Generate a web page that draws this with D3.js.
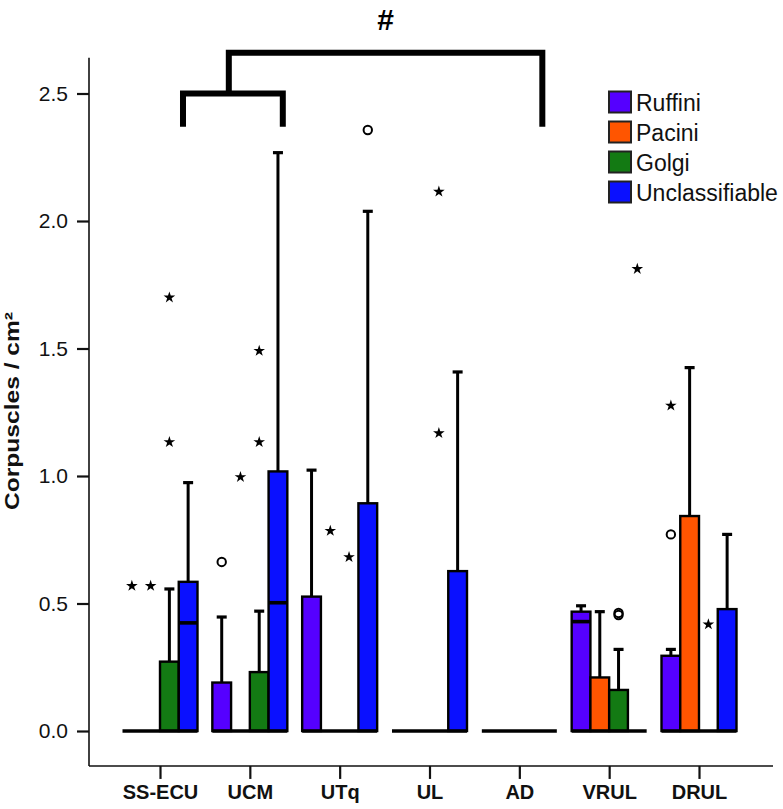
<!DOCTYPE html>
<html>
<head>
<meta charset="utf-8">
<script src="https://cdn.jsdelivr.net/npm/d3@7"></script>
<style>
  html, body { margin: 0; padding: 0; background: #fff; }
  svg { display: block; font-family: "Liberation Sans", Arial, sans-serif; }
</style>
</head>
<body>
<svg id="chart" width="783" height="809"></svg>
<script>
// ---------- data ----------
const categories = ["SS-ECU", "UCM", "UTq", "UL", "AD", "VRUL", "DRUL"];
const types = ["Ruffini", "Pacini", "Golgi", "Unclassifiable"];
const typeColors = ["#5500ff", "#ff5500", "#137a13", "#0a10ff"];
const yTicks = [0.0, 0.5, 1.0, 1.5, 2.0, 2.5];

// upper quartile (box top); lower quartile is 0 everywhere
const q3Ruffini = [0, 0.19, 0.527, 0, 0, 0.468, 0.295];
const q3Pacini = [0, 0, 0, 0, 0, 0.21, 0.843];
const q3Golgi = [0.272, 0.231, 0, 0, 0, 0.161, 0];
const q3Unclass = [0.585, 1.018, 0.893, 0.627, 0, 0, 0.478];

// medians
const medRuffini = [0, 0, 0, 0, 0, 0.429, 0];
const medPacini = [0, 0, 0, 0, 0, 0, 0];
const medGolgi = [0, 0, 0, 0, 0, 0, 0];
const medUnclass = [0.424, 0.503, 0, 0, 0, 0, 0];

// upper whisker ends
const whiskRuffini = [0, 0.447, 1.023, 0, 0, 0.491, 0.32];
const whiskPacini = [0, 0, 0, 0, 0, 0.468, 1.425];
const whiskGolgi = [0.557, 0.47, 0, 0, 0, 0.32, 0];
const whiskUnclass = [0.974, 2.268, 2.038, 1.408, 0, 0, 0.771];

// outliers: [category, type, value, marker]
const outliers = [
  ["SS-ECU", "Ruffini", 0.569, "star"],
  ["SS-ECU", "Pacini", 0.569, "star"],
  ["SS-ECU", "Golgi", 1.133, "star"],
  ["SS-ECU", "Golgi", 1.70, "star"],
  ["UCM", "Ruffini", 0.663, "circle"],
  ["UCM", "Pacini", 0.996, "star"],
  ["UCM", "Golgi", 1.133, "star"],
  ["UCM", "Golgi", 1.491, "star"],
  ["UTq", "Pacini", 0.785, "star"],
  ["UTq", "Golgi", 0.682, "star"],
  ["UTq", "Unclassifiable", 2.357, "circle"],
  ["UL", "Golgi", 1.168, "star"],
  ["UL", "Golgi", 2.115, "star"],
  ["VRUL", "Golgi", 0.455, "circle"],
  ["VRUL", "Golgi", 0.463, "circle"],
  ["VRUL", "Unclassifiable", 1.812, "star"],
  ["DRUL", "Ruffini", 0.771, "circle"],
  ["DRUL", "Ruffini", 1.276, "star"],
  ["DRUL", "Golgi", 0.418, "star"]
];

// significance brackets (value levels)
const bracketLow = { top: 2.5, foot: 2.37 };
const bracketHigh = { top: 2.66, foot: 2.37 };
const sigLabel = "#";
const yTitle = "Corpuscles / cm²";

// ---------- build ----------
const q3 = [q3Ruffini, q3Pacini, q3Golgi, q3Unclass];
const med = [medRuffini, medPacini, medGolgi, medUnclass];
const whisk = [whiskRuffini, whiskPacini, whiskGolgi, whiskUnclass];

const svg = d3.select("#chart");

const y = d3.scaleLinear().domain([0, 2.5]).range([731, 93.5]);
const x = d3.scalePoint().domain(categories).range([160, 699]);
const groupW = 75;
const sub = d3.scaleBand().domain(types).range([-groupW / 2, groupW / 2]);
const color = d3.scaleOrdinal().domain(types).range(typeColors);

const axisLeftX = 89;
const axisBottomY = y(-0.137);

// Y axis
const yAxis = d3.axisLeft(y).tickValues(yTicks).tickFormat(d3.format(".1f")).tickSize(12).tickPadding(9);
const gy = svg.append("g").attr("transform", `translate(${axisLeftX},0)`).call(yAxis);
gy.select(".domain").remove();
gy.selectAll(".tick line").attr("stroke", "#111").attr("stroke-width", 2.2);
gy.selectAll(".tick text").attr("font-size", 21).attr("fill", "#111")
  .attr("font-family", "Liberation Sans, Arial, sans-serif");
svg.append("line").attr("x1", axisLeftX).attr("x2", axisLeftX)
  .attr("y1", y(2.64)).attr("y2", axisBottomY).attr("stroke", "#111").attr("stroke-width", 1.6);

// X axis
const xAxis = d3.axisBottom(x).tickSize(13).tickPadding(6);
const gx = svg.append("g").attr("transform", `translate(0,${axisBottomY})`).call(xAxis);
gx.select(".domain").remove();
gx.selectAll(".tick line").attr("stroke", "#111").attr("stroke-width", 2.2);
gx.selectAll(".tick text").attr("font-size", 20).attr("font-weight", "bold").attr("fill", "#111")
  .attr("font-family", "Liberation Sans, Arial, sans-serif");
svg.append("line").attr("x1", axisLeftX).attr("x2", 773)
  .attr("y1", axisBottomY).attr("y2", axisBottomY).attr("stroke", "#111").attr("stroke-width", 1.6);

// Y title
svg.append("text")
  .attr("transform", `translate(19,411) rotate(-90)`)
  .attr("text-anchor", "middle")
  .attr("font-size", 20).attr("font-weight", "bold").attr("fill", "#111")
  .attr("textLength", 198).attr("lengthAdjust", "spacingAndGlyphs")
  .text(yTitle);

// Boxes
const plot = svg.append("g");
categories.forEach((cat, ci) => {
  const cx = x(cat);
  types.forEach((t, ti) => {
    const x0 = cx + sub(t);
    const bw = sub.bandwidth();
    const mid = x0 + bw / 2;
    const top = q3[ti][ci];
    const w = whisk[ti][ci];
    if (w > top) {
      plot.append("line").attr("x1", mid).attr("x2", mid)
        .attr("y1", y(top)).attr("y2", y(w))
        .attr("stroke", "#000").attr("stroke-width", 3);
      plot.append("line").attr("x1", mid - 5).attr("x2", mid + 5)
        .attr("y1", y(w)).attr("y2", y(w))
        .attr("stroke", "#000").attr("stroke-width", 3.2);
    }
    if (top > 0) {
      plot.append("rect")
        .attr("x", x0).attr("y", y(top))
        .attr("width", bw).attr("height", y(0) - y(top))
        .attr("fill", color(t)).attr("stroke", "#000").attr("stroke-width", 2.4);
    }
    const m = med[ti][ci];
    if (m > 0) {
      plot.append("line").attr("x1", x0).attr("x2", x0 + bw)
        .attr("y1", y(m)).attr("y2", y(m))
        .attr("stroke", "#000").attr("stroke-width", 3.6);
    }
  });
  // zero line (collapsed boxes / box bottoms)
  plot.append("line")
    .attr("x1", cx - groupW / 2).attr("x2", cx + groupW / 2)
    .attr("y1", y(0)).attr("y2", y(0))
    .attr("stroke", "#000").attr("stroke-width", 3.6);
});

// Outliers
const star = d3.symbol().type(d3.symbolStar).size(42);
outliers.forEach(([cat, t, v, kind]) => {
  const px = x(cat) + sub(t) + sub.bandwidth() / 2;
  if (kind === "star") {
    svg.append("path").attr("d", star())
      .attr("transform", `translate(${px},${y(v)})`).attr("fill", "#000");
  } else {
    svg.append("circle").attr("cx", px).attr("cy", y(v)).attr("r", 4.2)
      .attr("fill", "none").attr("stroke", "#000").attr("stroke-width", 2);
  }
});

// Significance brackets
const step = x.step();
const lowL = x("SS-ECU") + 0.256 * step;
const lowR = x("UCM") + 0.367 * step;
const highL = x("UCM") - 0.234 * step;
const highR = x("AD") + 0.256 * step;
svg.append("path")
  .attr("d", `M${lowL},${y(bracketLow.foot)}V${y(bracketLow.top)}H${lowR}V${y(bracketLow.foot)}`)
  .attr("fill", "none").attr("stroke", "#000").attr("stroke-width", 6).attr("stroke-linejoin", "miter");
svg.append("path")
  .attr("d", `M${highL},${y(bracketLow.top)}V${y(bracketHigh.top)}H${highR}V${y(bracketHigh.foot)}`)
  .attr("fill", "none").attr("stroke", "#000").attr("stroke-width", 6).attr("stroke-linejoin", "miter");
svg.append("text").attr("x", (highL + highR) / 2).attr("y", 30)
  .attr("text-anchor", "middle").attr("font-size", 30).attr("font-weight", "bold").attr("fill", "#000")
  .text(sigLabel);

// Legend
const legend = svg.append("g");
types.forEach((t, i) => {
  const cy = 102 + i * 30;
  legend.append("rect").attr("x", 609).attr("y", cy - 10.5).attr("width", 22).attr("height", 21)
    .attr("fill", color(t)).attr("stroke", "#222").attr("stroke-width", 2);
  legend.append("text").attr("x", 636).attr("y", cy + 9)
    .attr("font-size", 23).attr("fill", "#111").text(t);
});
</script>
</body>
</html>
